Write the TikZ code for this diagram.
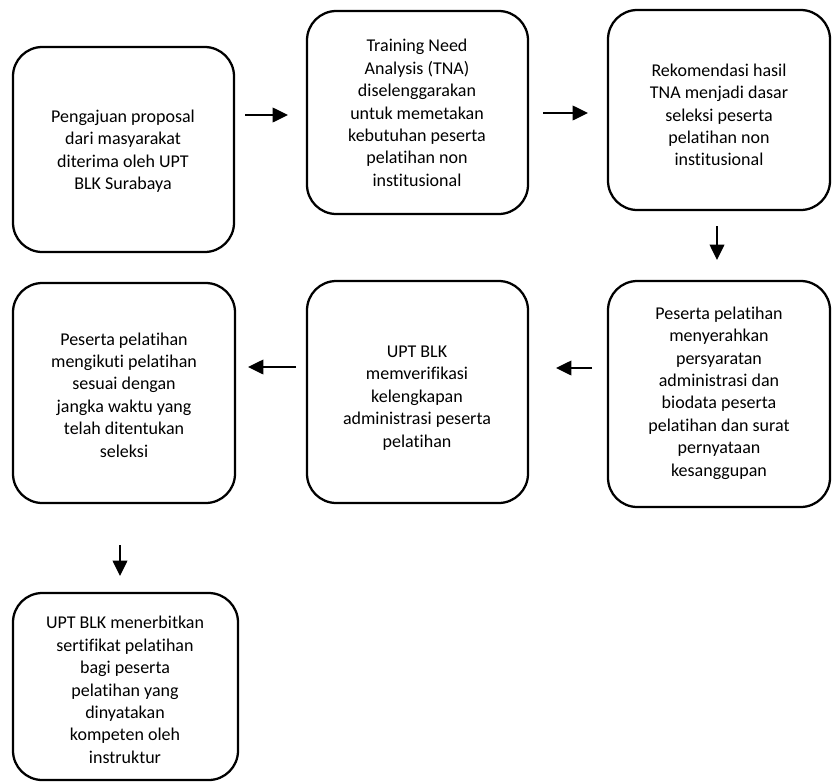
\documentclass[tikz,border=0pt]{standalone}
\usepackage{fontspec}
\setmainfont{Carlito}[Ligatures={NoCommon,NoContextual}]
\usetikzlibrary{arrows.meta}
\begin{document}
\begin{tikzpicture}[x=0.75pt,y=-0.75pt,
  box/.style={draw=black,line width=1.7pt,rounded corners=22pt},
  txt/.style={align=center,font=\fontsize{13.5}{16.8}\selectfont,inner sep=0pt},
  arr/.style={line width=1.1pt,-{Triangle[length=11.5pt,width=11pt]}}]
\useasboundingbox (0,0) rectangle (832,782);
% boxes
\draw[box] (13,47) rectangle (234,252);
\draw[box] (307,11) rectangle (528,214);
\draw[box] (608,10) rectangle (830,210);
\draw[box] (608,281) rectangle (830,507);
\draw[box] (307,281) rectangle (528,503);
\draw[box] (13,283) rectangle (235,503);
\draw[box] (13,593) rectangle (238,780);
% texts
\node[txt] (t1) at (123,151) {Pengajuan proposal\\dari masyarakat\\diterima oleh UPT\\BLK Surabaya};
\node[txt] (t2) at (417,113) {Training Need\\Analysis (TNA)\\diselenggarakan\\untuk memetakan\\kebutuhan peserta\\pelatihan non\\institusional};
\node[txt] (t3) at (719,115) {Rekomendasi hasil\\TNA menjadi dasar\\seleksi peserta\\pelatihan non\\institusional};
\node[txt] (t4) at (719,393) {Peserta pelatihan\\menyerahkan\\persyaratan\\administrasi dan\\biodata peserta\\pelatihan dan surat\\pernyataan\\kesanggupan};
\node[txt] (t5) at (417,398) {UPT BLK\\memverifikasi\\kelengkapan\\administrasi peserta\\pelatihan};
\node[txt] (t6) at (124,395) {Peserta pelatihan\\mengikuti pelatihan\\sesuai dengan\\jangka waktu yang\\telah ditentukan\\seleksi};
\node[txt] (t7) at (125,690) {UPT BLK menerbitkan\\sertifikat pelatihan\\bagi peserta\\pelatihan yang\\dinyatakan\\kompeten oleh\\instruktur};
% arrow coordinates
\coordinate (a1s) at (245,115); \coordinate (a1e) at (288,115);
\coordinate (a2s) at (543,113); \coordinate (a2e) at (588,113);
\coordinate (a3s) at (717,226); \coordinate (a3e) at (717,260);
\coordinate (a4s) at (592,368); \coordinate (a4e) at (556,368);
\coordinate (a5s) at (296,367); \coordinate (a5e) at (248,367);
\coordinate (a6s) at (120,545); \coordinate (a6e) at (120,576);
\draw[arr] (a1s) -- (a1e);
\draw[arr] (a2s) -- (a2e);
\draw[arr] (a3s) -- (a3e);
\draw[arr] (a4s) -- (a4e);
\draw[arr] (a5s) -- (a5e);
\draw[arr] (a6s) -- (a6e);
\end{tikzpicture}
\end{document}
